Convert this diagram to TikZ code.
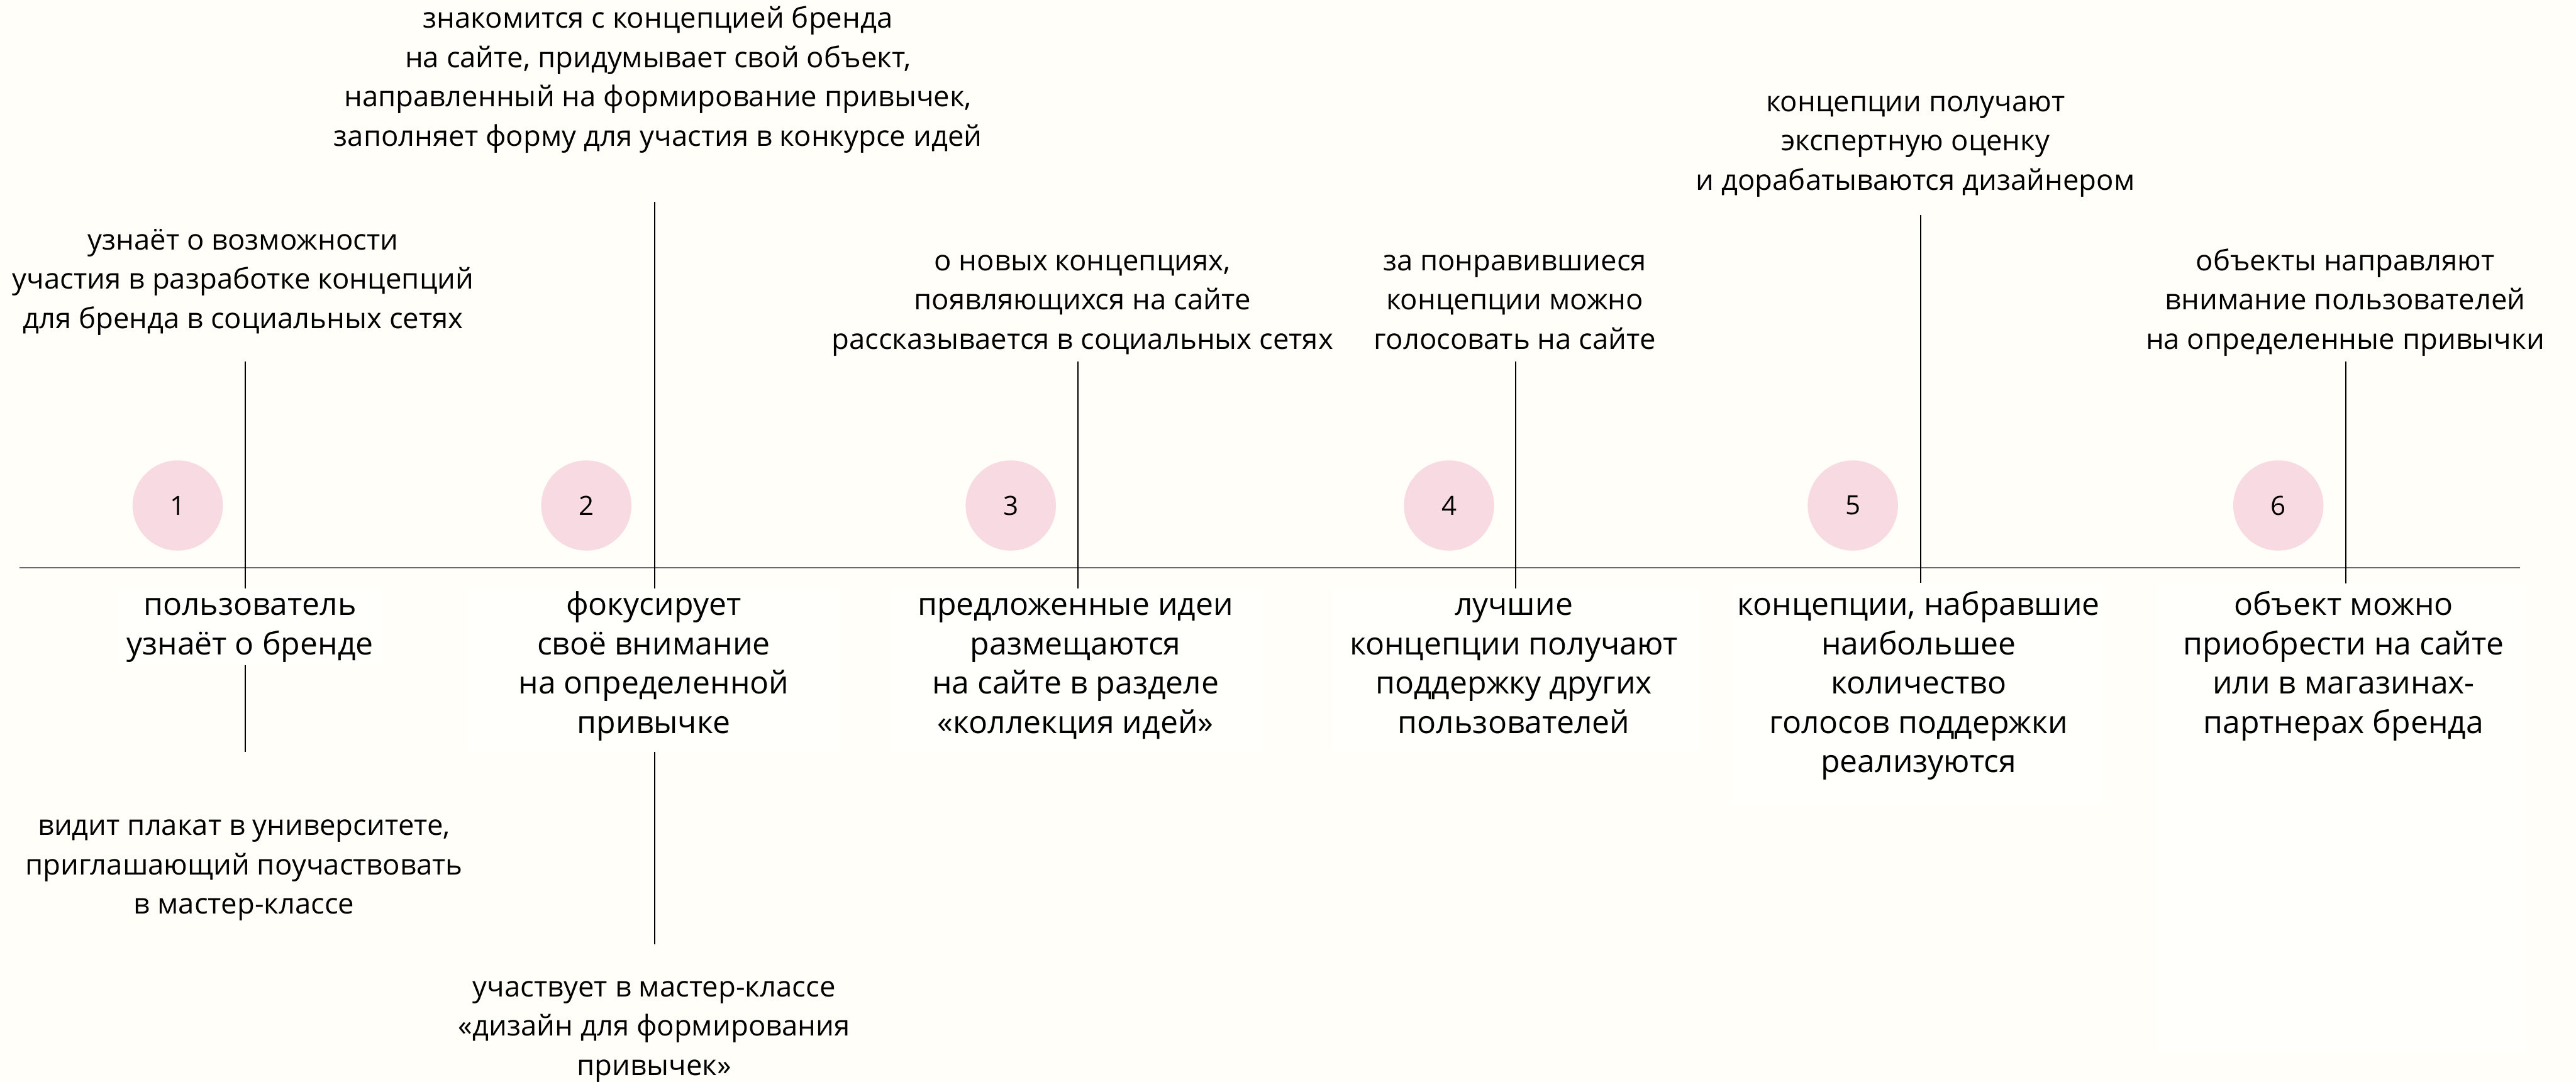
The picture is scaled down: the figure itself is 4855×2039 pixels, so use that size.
\documentclass[tikz,border=0pt]{standalone}
\usepackage{fontspec}
\setmainfont{Open Sans}
\definecolor{bgc}{RGB}{255,254,249}
\definecolor{coverc}{RGB}{255,255,252}
\definecolor{pinkc}{RGB}{247,218,226}
\definecolor{axisgray}{RGB}{105,105,105}
\newcommand{\mylines}[1]{\begin{tabular}[t]{@{}c@{}}#1\end{tabular}}
\begin{document}
\begin{tikzpicture}[x=0.01cm,y=-0.01cm,
  toptext/.style={font=\fontsize{15.33}{21.05}\selectfont, anchor=base, inner sep=0pt},
  bottext/.style={font=\fontsize{16.82}{21.05}\selectfont, anchor=base, inner sep=0pt},
  numcirc/.style={circle, fill=pinkc, minimum size=1.7cm, inner sep=0pt, font=\fontsize{14.2}{16}\selectfont},
  stem/.style={line width=0.7pt, black},
  axisline/.style={line width=0.75pt, axisgray},
  cover/.style={fill=coverc, draw=none}]
\useasboundingbox (0,0) rectangle (4855,2039);
\fill[bgc] (0,0) rectangle (4855,2039);

% axis
\coordinate (axL) at (37,1070);
\coordinate (axR) at (4750,1070);
\draw[axisline] (axL) -- (axR);

% stems
\coordinate (v1t) at (462,681);  \coordinate (v1b) at (462,1418);
\coordinate (v2t) at (1234,380); \coordinate (v2b) at (1234,1780);
\coordinate (v3t) at (2032,682); \coordinate (v3b) at (2032,1109);
\coordinate (v4t) at (2857,682); \coordinate (v4b) at (2857,1109);
\coordinate (v5t) at (3620,405); \coordinate (v5b) at (3620,1109);
\coordinate (v6t) at (4421,681); \coordinate (v6b) at (4421,1109);
\draw[stem] (v1t) -- (v1b);
\draw[stem] (v2t) -- (v2b);
\draw[stem] (v3t) -- (v3b);
\draw[stem] (v4t) -- (v4b);
\draw[stem] (v5t) -- (v5b);
\draw[stem] (v6t) -- (v6b);

% white boxes behind the main texts
\fill[cover] (220,1109) rectangle (722,1254);
\fill[cover] (880,1109) rectangle (1585,1418);
\fill[cover] (1680,1109) rectangle (2380,1420);
\fill[cover] (2510,1109) rectangle (3200,1420);
\fill[cover] (3266,1099) rectangle (3963,1517);
\fill[cover] (4065,1100) rectangle (4760,1985);

% circles
\node[numcirc] (c1) at (335,953) {1};
\node[numcirc] (c2) at (1105,953) {2};
\node[numcirc] (c3) at (1905,953) {3};
\node[numcirc] (c4) at (2731,953) {4};
\node[numcirc] (c5) at (3492,953) {5};
\node[numcirc] (c6) at (4294,953) {6};

% upper texts
\node[toptext] (t1) at (458,471) {\mylines{узнаёт о возможности\\участия в разработке концепций\\для бренда в социальных сетях}};
\node[toptext] (t2) at (1240,53) {\mylines{знакомится с концепцией бренда\\на сайте, придумывает свой объект,\\направленный на формирование привычек,\\заполняет форму для участия в конкурсе идей}};
\node[toptext] (t3) at (2040,510) {\mylines{о новых концепциях,\\появляющихся на сайте\\рассказывается в социальных сетях}};
\node[toptext] (t4) at (2855,510) {\mylines{за понравившиеся\\концепции можно\\голосовать на сайте}};
\node[toptext] (t5) at (3610,210) {\mylines{концепции получают\\экспертную оценку\\и дорабатываются дизайнером}};
\node[toptext] (t6) at (4420,510) {\mylines{объекты направляют\\внимание пользователей\\на определенные привычки}};

% main texts
\node[bottext] (b1) at (471,1160) {\mylines{пользователь\\узнаёт о бренде}};
\node[bottext] (b2) at (1232,1160) {\mylines{фокусирует\\своё внимание\\на определенной\\привычке}};
\node[bottext] (b3) at (2027,1160) {\mylines{предложенные идеи\\размещаются\\на сайте в разделе\\«коллекция идей»}};
\node[bottext] (b4) at (2853,1160) {\mylines{лучшие\\концепции получают\\поддержку других\\пользователей}};
\node[bottext] (b5) at (3616,1160) {\mylines{концепции, набравшие\\наибольшее\\количество\\голосов поддержки\\реализуются}};
\node[bottext] (b6) at (4417,1160) {\mylines{объект можно\\приобрести на сайте\\или в магазинах-\\партнерах бренда}};

% lower texts
\node[toptext] (l1) at (460,1575) {\mylines{видит плакат в университете,\\приглашающий поучаствовать\\в мастер-классе}};
\node[toptext] (l2) at (1233,1879) {\mylines{участвует в мастер-классе\\«дизайн для формирования\\привычек»}};
\end{tikzpicture}
\end{document}
